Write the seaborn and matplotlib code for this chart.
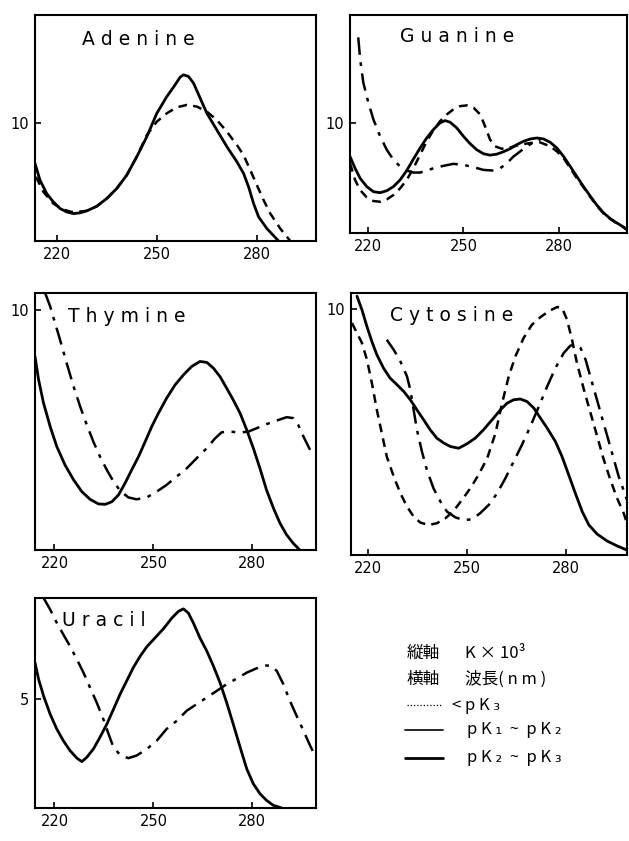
import numpy as np
import pandas as pd
import matplotlib
matplotlib.use("Agg")
import matplotlib.pyplot as plt
import seaborn as sns

# UV absorption spectra of nucleobases
# wavelength in nm, absorbance in the figure's K x 10^3 units

ade_solid_x = [213.5, 215, 217, 219, 221, 223, 225, 227, 229, 232, 235, 238, 241, 244, 247, 250, 253, 255, 257,
               258, 259.5, 261, 263, 265, 268, 271, 274, 276, 277.5, 279, 280.5, 283, 286.5]
ade_solid_y = [6.59, 5.17, 4.03, 3.32, 2.76, 2.47, 2.33, 2.39, 2.56, 2.95, 3.61, 4.46, 5.6, 7.16, 8.86, 10.85,
               12.27, 13.07, 13.92, 14.12, 13.98, 13.41, 12.13, 10.85, 9.43, 8.01, 6.73, 5.74, 4.6, 3.18, 2.05,
               1.05, 0.0]
ade_dash_x = [213.8, 216, 219, 222, 224.5, 227, 229, 232, 235, 238, 241, 244, 247, 250, 253, 256, 259, 262, 265,
              268, 271, 274, 276, 278, 280, 282, 284, 287, 290]
ade_dash_y = [5.45, 4.18, 3.18, 2.67, 2.47, 2.5, 2.56, 2.95, 3.61, 4.46, 5.6, 7.16, 9.0, 10.14, 10.85, 11.36,
              11.56, 11.42, 10.99, 10.28, 9.29, 8.15, 7.3, 6.02, 4.74, 3.47, 2.33, 1.05, 0.0]

gua_solid_x = [214.2, 215.8, 217.4, 219.5, 221.6, 223.7, 225.8, 227.9, 230, 232.1, 234.2, 236.3, 238.4, 240.5,
               242.6, 244.2, 245.8, 247.9, 250, 252.1, 254.2, 256.3, 258.4, 260.5, 262.6, 264.7, 266.8, 268.9,
               271.1, 273.2, 275.3, 277.4, 279.5, 281.6, 283.7, 285.8, 287.9, 290, 292.1, 294.2, 296.3, 298.4,
               300.5, 301.6]
gua_solid_y = [6.95, 5.88, 4.97, 4.21, 3.75, 3.66, 3.84, 4.21, 4.82, 5.67, 6.71, 7.71, 8.63, 9.39, 10.0, 10.21,
               10.06, 9.54, 8.78, 8.11, 7.56, 7.2, 7.07, 7.16, 7.38, 7.65, 8.02, 8.32, 8.54, 8.63, 8.54, 8.23,
               7.71, 6.95, 6.04, 5.12, 4.21, 3.35, 2.53, 1.83, 1.31, 0.91, 0.55, 0.3]
gua_dash_x = [214.2, 215.8, 217.4, 219.5, 221.6, 223.7, 225.8, 227.9, 230, 232.1, 234.2, 236.3, 238.4, 240.5,
              242.6, 244.7, 246.8, 248.9, 251.1, 253.2, 255.3, 256.8, 258.4, 260, 262.1, 264.7, 267.9, 271.1,
              274.2, 277.4, 279.5, 281.6, 283.7, 285.8, 287.9, 290, 292.1, 294.2, 296.3, 298.4, 300.5, 301.6]
gua_dash_y = [6.34, 4.82, 3.9, 3.23, 2.9, 2.84, 3.05, 3.45, 4.05, 4.82, 5.88, 7.1, 8.32, 9.33, 10.15, 10.76,
              11.22, 11.52, 11.59, 11.37, 10.76, 9.7, 8.48, 7.87, 7.65, 7.77, 8.02, 8.17, 8.23, 7.87, 7.41, 6.8,
              5.88, 4.97, 4.15, 3.29, 2.47, 1.77, 1.28, 0.88, 0.52, 0.27]
gua_dd_x = [216.8, 217.4, 218.4, 220, 221.6, 223.7, 225.8, 227.9, 230, 232.1, 234.2, 236.3, 238.4, 240.5, 243.7,
            246.8, 250, 253.2, 256.3, 259.5, 261.6, 263.7, 265.8, 267.9, 270, 272.1, 274.2]
gua_dd_y = [17.77, 15.79, 13.66, 11.83, 10.3, 8.78, 7.56, 6.65, 6.04, 5.67, 5.49, 5.49, 5.67, 5.88, 6.1, 6.28,
            6.19, 5.98, 5.73, 5.67, 5.88, 6.34, 6.95, 7.41, 7.87, 8.23, 8.48]

thy_solid_x = [214.1, 215.2, 216.7, 218.7, 220.7, 223.2, 225.8, 228.3, 230.8, 233.3, 235.4, 237.4, 239.4, 241.4,
               243.4, 245.5, 247.5, 249.5, 251.5, 254, 256.6, 259.1, 261.6, 264.1, 266.2, 268.2, 270.2, 272.2,
               274.2, 276.3, 278.3, 280.3, 282.3, 284.3, 286.4, 288.4, 290.4, 292.4, 294.4]
thy_solid_y = [8.06, 7.08, 6.11, 5.14, 4.31, 3.54, 2.92, 2.43, 2.11, 1.92, 1.9, 2.01, 2.29, 2.78, 3.33, 3.89,
               4.51, 5.14, 5.69, 6.32, 6.88, 7.29, 7.64, 7.85, 7.81, 7.57, 7.22, 6.74, 6.25, 5.69, 5.0, 4.24,
               3.4, 2.5, 1.74, 1.11, 0.63, 0.28, 0.0]
thy_dd_x = [217.2, 218.7, 220.2, 221.7, 223.7, 225.8, 227.8, 229.8, 231.8, 233.8, 235.9, 237.9, 239.9, 242.4,
            244.9, 248, 251, 254, 257.1, 260.1, 263.1, 266.2, 268.7, 270.7, 273.2, 276.3, 278.8, 281.3, 284.3,
            287.4, 290.4, 292.4, 293.9, 295.5, 297.5]
thy_dd_y = [10.69, 10.14, 9.44, 8.75, 7.78, 6.81, 5.97, 5.21, 4.51, 3.89, 3.33, 2.85, 2.47, 2.19, 2.11, 2.19,
            2.43, 2.71, 3.06, 3.4, 3.82, 4.24, 4.65, 4.9, 4.93, 4.89, 4.93, 5.07, 5.24, 5.39, 5.53, 5.49, 5.21,
            4.72, 4.17]

cyt_solid_x = [216.8, 218.3, 219.8, 221.3, 222.8, 224.8, 226.8, 228.9, 230.9, 232.9, 234.9, 236.9, 238.9, 240.9,
               243, 245, 247.5, 250, 252.5, 255, 257.6, 260.1, 262.1, 264.1, 266.1, 268.1, 270.2, 272.2, 274.2,
               276.7, 278.7, 280.7, 282.7, 284.8, 286.8, 289.3, 292.3, 295.3, 298.3]
cyt_solid_y = [10.52, 9.97, 9.29, 8.68, 8.14, 7.6, 7.19, 6.92, 6.65, 6.31, 5.9, 5.5, 5.09, 4.75, 4.55, 4.41,
               4.34, 4.52, 4.75, 5.09, 5.5, 5.9, 6.17, 6.31, 6.34, 6.24, 5.97, 5.56, 5.16, 4.61, 4.0, 3.26, 2.51,
               1.76, 1.22, 0.85, 0.57, 0.37, 0.2]
cyt_dash_x = [215.3, 216.8, 218.3, 219.8, 221.3, 222.8, 224.3, 225.8, 227.9, 229.9, 231.9, 233.9, 235.9, 238.4,
              240.9, 243.5, 246, 248.5, 251, 253.5, 256.1, 258.6, 260.6, 262.6, 264.6, 267.1, 269.6, 272.2, 274.7,
              277.2, 278.7, 280.2, 281.7, 283.2, 285.3, 287.3, 289.3, 291.3, 293.3, 295.3, 297.3, 298.3]
cyt_dash_y = [9.43, 9.02, 8.62, 7.94, 6.99, 5.9, 4.95, 4.0, 3.19, 2.51, 1.97, 1.56, 1.32, 1.22, 1.29, 1.49, 1.8,
              2.24, 2.71, 3.26, 3.93, 4.95, 6.17, 7.26, 8.07, 8.82, 9.36, 9.67, 9.91, 10.08, 10.04, 9.57, 8.75,
              7.8, 6.72, 5.77, 4.82, 3.87, 3.05, 2.31, 1.7, 1.29]
cyt_dd_x = [225.8, 227.9, 229.9, 231.9, 232.9, 233.9, 234.9, 236.4, 237.9, 239.9, 242, 244, 246.5, 249, 251.5,
            254, 256.6, 259.1, 261.6, 264.1, 266.6, 269.1, 271.7, 274.2, 276.7, 279.2, 281.2, 282.7, 284.3,
            285.8, 287.8, 289.8, 291.8, 293.8, 295.8, 298.3]
cyt_dd_y = [8.75, 8.34, 7.87, 7.26, 6.72, 5.9, 5.09, 4.21, 3.46, 2.71, 2.17, 1.76, 1.53, 1.42, 1.45, 1.7, 2.04,
            2.51, 3.12, 3.8, 4.48, 5.22, 6.04, 6.85, 7.6, 8.21, 8.51, 8.55, 8.41, 7.94, 6.99, 6.04, 5.09, 4.14,
            3.19, 2.24]

ura_solid_x = [214.1, 215.2, 216.7, 218.7, 220.7, 222.7, 224.7, 226.8, 228.3, 229.8, 231.8, 233.8, 235.9, 237.9,
               239.9, 241.9, 243.9, 246, 248, 250.5, 253, 255.6, 257.6, 259.1, 260.6, 262.1, 264.1, 266.2, 268.2,
               270.2, 272.2, 274.2, 276.3, 278.3, 280.3, 282.3, 284.3, 286.4, 288.9]
ura_solid_y = [6.68, 5.91, 5.15, 4.31, 3.63, 3.09, 2.64, 2.29, 2.13, 2.33, 2.71, 3.25, 3.86, 4.54, 5.23, 5.84,
               6.45, 6.98, 7.41, 7.82, 8.23, 8.73, 9.04, 9.15, 8.96, 8.51, 7.82, 7.21, 6.52, 5.76, 4.85, 3.86,
               2.79, 1.8, 1.11, 0.66, 0.35, 0.12, 0.0]
ura_dd_x = [216.7, 218.7, 220.7, 222.7, 224.7, 226.8, 228.8, 230.8, 232.8, 234.8, 236.4, 237.9, 239.9, 242.4,
            244.9, 248, 251, 254, 257.1, 260.1, 263.1, 266.2, 269.2, 272.2, 275.3, 278.3, 281.3, 284.3, 285.9,
            287.4, 289.4, 291.4, 293.4, 295.5, 297.5, 299]
ura_dd_y = [9.65, 9.12, 8.51, 7.97, 7.44, 6.83, 6.22, 5.53, 4.85, 4.09, 3.4, 2.79, 2.44, 2.29, 2.41, 2.71, 3.09,
            3.63, 4.01, 4.47, 4.77, 5.08, 5.38, 5.69, 5.95, 6.22, 6.42, 6.55, 6.52, 6.3, 5.69, 4.92, 4.24, 3.55,
            2.87, 2.41]

panel_names = ["Adenine", "Guanine", "Thymine", "Cytosine", "Uracil"]
x_ticks = [220, 250, 280]
y_tick_vals = [10, 10, 10, 10, 5]

axis_keys = ["縦軸", "横軸"]
axis_units = ["K × 10³", "波長( n m )"]
range_labels = ["< p K ₃", "p K ₁  ~  p K ₂", "p K ₂  ~  p K ₃"]

sns.set_style("white")
plt.rcParams["font.family"] = ["DejaVu Sans", "Noto Sans CJK JP"]
plt.rcParams["text.color"] = "black"

W, H = 629, 841
fig = plt.figure(figsize=(W / 100, H / 100), dpi=100)


def box(l, t, r, b):
    return [l / W, 1 - b / H, (r - l) / W, (b - t) / H]


panels = {
    "Adenine": dict(rect=box(35, 15, 316, 241), xlim=(213.5, 297.7), ylim=(0, 19.2), title=(0.167, 0.89)),
    "Guanine": dict(rect=box(350, 15, 627, 233), xlim=(214.2, 301.6), ylim=(0, 19.8), title=(0.18, 0.90)),
    "Thymine": dict(rect=box(35, 293, 316, 550), xlim=(214.1, 299.3), ylim=(0, 10.7), title=(0.117, 0.91)),
    "Cytosine": dict(rect=box(351, 293, 627, 555), xlim=(215.0, 298.3), ylim=(0, 10.65), title=(0.14, 0.915)),
    "Uracil": dict(rect=box(35, 598, 316, 808), xlim=(214.1, 299.3), ylim=(0, 9.65), title=(0.096, 0.895)),
}

curves = {
    "Adenine": [(ade_dash_x, ade_dash_y, "dash"), (ade_solid_x, ade_solid_y, "solid")],
    "Guanine": [(gua_dd_x, gua_dd_y, "dashdot"), (gua_dash_x, gua_dash_y, "dash"), (gua_solid_x, gua_solid_y, "solid")],
    "Thymine": [(thy_dd_x, thy_dd_y, "dashdot"), (thy_solid_x, thy_solid_y, "solid")],
    "Cytosine": [(cyt_dash_x, cyt_dash_y, "dash"), (cyt_dd_x, cyt_dd_y, "dashdot"), (cyt_solid_x, cyt_solid_y, "solid")],
    "Uracil": [(ura_dd_x, ura_dd_y, "dashdot"), (ura_solid_x, ura_solid_y, "solid")],
}

styles = {
    "solid": dict(linestyle="-", linewidth=2.0),
    "dash": dict(linestyle=(0, (3.5, 2.5)), linewidth=1.8),
    "dashdot": dict(linestyle=(0, (7, 3, 1.5, 3)), linewidth=1.8),
}

for name, ytv in zip(panel_names, y_tick_vals):
    p = panels[name]
    ax = fig.add_axes(p["rect"])
    for xs, ys, st in curves[name]:
        df = pd.DataFrame({"nm": xs, "K": ys})
        sns.lineplot(data=df, x="nm", y="K", ax=ax, color="black", solid_joinstyle="round", **styles[st])
    ax.set_xlim(*p["xlim"])
    ax.set_ylim(*p["ylim"])
    ax.set_xticks(x_ticks)
    ax.set_xticklabels([str(t) for t in x_ticks])
    ax.set_yticks([ytv])
    ax.set_yticklabels([str(ytv)])
    ax.set_xlabel("")
    ax.set_ylabel("")
    ax.tick_params(axis="both", direction="in", length=4, width=1.2, labelsize=10.5,
                   bottom=True, left=True, colors="black", pad=4)
    for s in ax.spines.values():
        s.set_visible(True)
        s.set_color("black")
        s.set_linewidth(1.5)
    ax.text(p["title"][0], p["title"][1], " ".join(name), transform=ax.transAxes,
            fontsize=13.5, ha="left", va="center", color="black")

# key to the axes and line styles
lax = fig.add_axes([0, 0, 1, 1])
lax.set_xlim(0, W)
lax.set_ylim(H, 0)
lax.axis("off")
cjk = ["Noto Sans CJK JP", "DejaVu Sans"]
for y, key, unit in zip([653, 679], axis_keys, axis_units):
    lax.text(407, y, key, family=cjk, fontsize=12, va="center")
    lax.text(465, y, unit, family=cjk, fontsize=12, va="center")
lax.plot([407, 442], [705, 705], color="black", linestyle=(0, (1, 1.6)), linewidth=0.9)
lax.text(452, 705, range_labels[0], family=cjk, fontsize=12, va="center")
lax.plot([405, 443], [730, 730], color="black", linewidth=1.2)
lax.text(467, 730, range_labels[1], family=cjk, fontsize=12, va="center")
lax.plot([405, 443], [758, 758], color="black", linewidth=2.0)
lax.text(467, 758, range_labels[2], family=cjk, fontsize=12, va="center")

fig.savefig("out.png", dpi=100)
